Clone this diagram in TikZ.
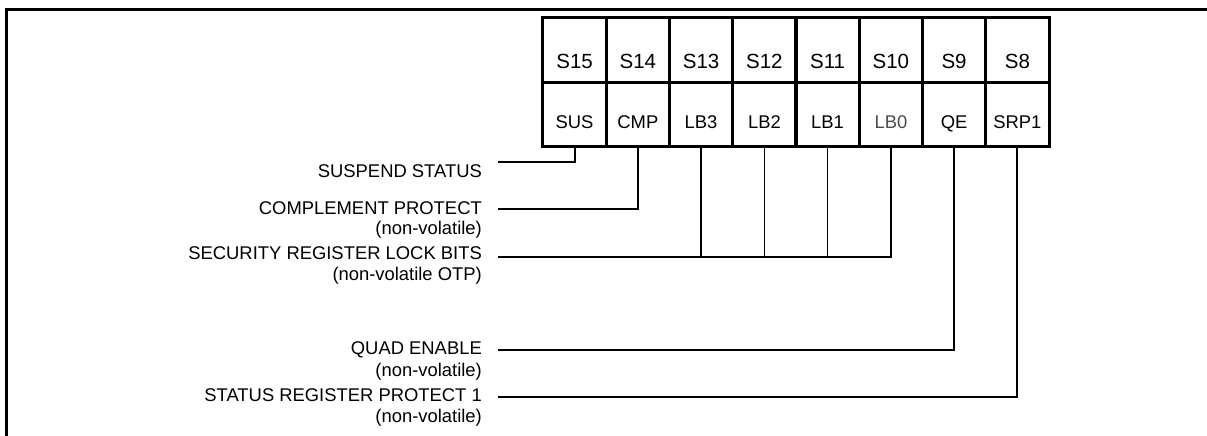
\documentclass[tikz,border=0pt]{standalone}
\usepackage{tikz}
\usepackage{fontspec}
\setmainfont{Liberation Sans}

\begin{document}
\begin{tikzpicture}[x=1pt,y=-1pt,
  bittop/.style={rectangle,draw,line width=3pt,minimum width=63.25pt,minimum height=64pt,inner sep=0pt,text height=40pt,text depth=4pt,font=\fontsize{20.5}{24}\selectfont},
  bitbot/.style={rectangle,draw,line width=3pt,minimum width=63.25pt,minimum height=64pt,inner sep=0pt,text height=32pt,text depth=4pt,font=\fontsize{18.4}{22}\selectfont},
  lbl/.style={anchor=base east,inner sep=0pt,font=\fontsize{18.4}{22}\selectfont},
  wire/.style={draw,line width=2pt},
  thinwire/.style={draw,line width=1.3pt}]
\useasboundingbox (0,0) rectangle (1207,436);
% frame
\draw[line width=3pt] (6,440) -- (6,10) -- (1212,10);
% status register bits
\node[bittop] (s15) at (574.6,50) {S15};
\node[bittop] (s14) at (637.9,50) {S14};
\node[bittop] (s13) at (701.1,50) {S13};
\node[bittop] (s12) at (764.4,50) {S12};
\node[bittop] (s11) at (827.6,50) {S11};
\node[bittop] (s10) at (890.9,50) {S10};
\node[bittop] (s9) at (954.1,50) {S9};
\node[bittop] (s8) at (1017.4,50) {S8};
\node[bitbot] (sus) at (574.6,114) {SUS};
\node[bitbot] (cmp) at (637.9,114) {CMP};
\node[bitbot] (lb3) at (701.1,114) {LB3};
\node[bitbot] (lb2) at (764.4,114) {LB2};
\node[bitbot] (lb1) at (827.6,114) {LB1};
\node[bitbot,text=black!70] (lb0) at (890.9,114) {LB0};
\node[bitbot] (qe) at (954.1,114) {QE};
\node[bitbot] (srp1) at (1017.4,114) {SRP1};
% labels
\node[lbl] (lsus) at (482,177) {SUSPEND STATUS};
\node[lbl] (lcmp) at (482,214) {COMPLEMENT PROTECT};
\node[lbl] (lcmpnv) at (482,234) {(non-volatile)};
\node[lbl] (llb) at (482,259) {SECURITY REGISTER LOCK BITS};
\node[lbl] (llbnv) at (482,280) {(non-volatile OTP)};
\node[lbl] (lqe) at (482,354) {QUAD ENABLE};
\node[lbl] (lqenv) at (482,376) {(non-volatile)};
\node[lbl] (lsrp) at (482,401) {STATUS REGISTER PROTECT 1};
\node[lbl] (lsrpnv) at (482,422) {(non-volatile)};
\coordinate (csus) at (498,162);
\coordinate (ccmp) at (498,209);
\coordinate (clb) at (498,257);
\coordinate (cqe) at (498,350);
\coordinate (csrp) at (498,397);
% connectors
\path[wire] (sus.south) |- (csus);
\path[wire] (cmp.south) |- (ccmp);
\path[thinwire] (lb0.south) |- (clb);
\path[thinwire] (lb1.south) -- (lb1.south |- clb);
\path[thinwire] (lb2.south) -- (lb2.south |- clb);
\path[thinwire] (lb3.south) -- (lb3.south |- clb);
\path[wire] (qe.south) |- (cqe);
\path[wire] (srp1.south) |- (csrp);
\end{tikzpicture}
\end{document}
